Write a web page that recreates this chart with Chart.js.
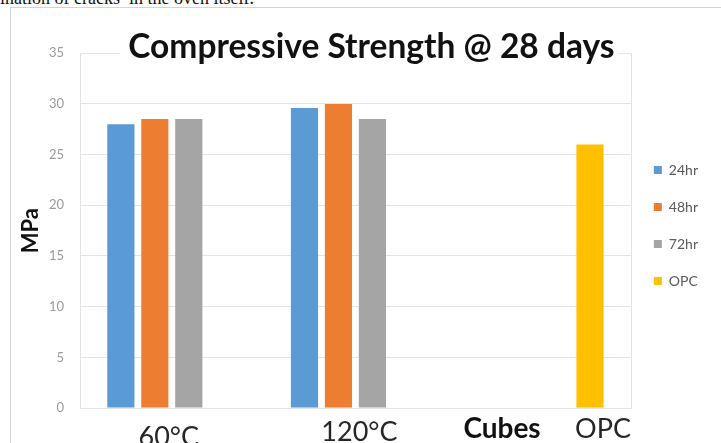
<!DOCTYPE html>
<html>
<head>
<meta charset="utf-8">
<script src="https://cdn.jsdelivr.net/npm/chart.js@4/dist/chart.umd.min.js"></script>
<style>
  html, body { margin: 0; padding: 0; background: #fff; width: 721px; height: 443px; overflow: hidden; }
  #caption {
    position: absolute; left: 0; top: -11px;
    font-family: "Liberation Serif", serif; font-size: 18px; line-height: 18px;
    color: #111; white-space: nowrap;
  }
  #frame {
    position: absolute; left: 10px; top: 7px; width: 720px; height: 450px;
    border: 1px solid #d4d4d4; box-sizing: border-box;
  }
  #chart { position: absolute; left: 11px; top: 8px; }
</style>
</head>
<body>
<div id="caption">ination of cracks&nbsp; in the oven itself.</div>
<div id="frame"></div>
<canvas id="chart" width="710" height="435"></canvas>
<script>
// Curing temperatures / reference mix along the x axis
const categories = ['60°C', '120°C', 'OPC'];
// Compressive strength (MPa) after 28 days, by oven-curing duration
const hr24 = [28, 29.6, null];
const hr48 = [28.5, 30, null];
const hr72 = [28.5, 28.5, null];
const opc  = [null, null, 26];
const yTicks = [0, 5, 10, 15, 20, 25, 30, 35];

const FONT = 'Lato, "Open Sans", sans-serif';
const TITLE_FONT = { family: FONT, size: 33.5, weight: 'bold' };
const LINE = '#e3e3e3';

// Light frame around the plotting area; the top edge leaves a gap for the title
const plotFrame = {
  id: 'plotFrame',
  beforeDraw(chart) {
    const { ctx, chartArea: a } = chart;
    const t = chart.titleBlock;
    ctx.save();
    ctx.font = `${TITLE_FONT.weight} ${TITLE_FONT.size}px ${TITLE_FONT.family}`;
    const text = t.options.text;
    const w = ctx.measureText(text).width;
    const lead = ctx.measureText(text.slice(0, text.length - text.trimStart().length)).width;
    const cx = (t.left + t.right) / 2;
    const textL = cx - w / 2 + lead, textR = cx + w / 2;
    const l = Math.round(a.left) + 0.5, r = Math.round(a.right) + 0.5;
    const tp = Math.round(a.top) + 0.5, b = Math.round(a.bottom) + 0.5;
    ctx.strokeStyle = LINE;
    ctx.lineWidth = 1;
    ctx.beginPath();
    ctx.moveTo(textL - 8, tp); ctx.lineTo(l, tp); ctx.lineTo(l, b);
    ctx.lineTo(r, b); ctx.lineTo(r, tp); ctx.lineTo(textR + 4, tp);
    ctx.stroke();
    ctx.restore();
  }
};

// Category labels and the "Cubes" caption under the x axis
const categoryLabels = {
  id: 'categoryLabels',
  afterDraw(chart) {
    const { ctx } = chart;
    const x = chart.scales.x;
    const shifts = [[-3, 38], [4, 33], [64, 30]];
    ctx.save();
    ctx.fillStyle = '#262626';
    ctx.textAlign = 'center';
    ctx.textBaseline = 'alphabetic';
    ctx.font = '27px ' + FONT;
    categories.forEach((c, i) => {
      const [dx, dy] = shifts[i];
      ctx.fillText(c, x.getPixelForValue(i) + dx, x.top + dy);
    });
    ctx.font = 'bold 28px ' + FONT;
    ctx.fillStyle = '#111';
    ctx.fillText(chart.options.scales.x.title.text, x.getPixelForValue(2) - 37, x.top + 30);
    ctx.restore();
  }
};

new Chart(document.getElementById('chart'), {
  type: 'bar',
  data: {
    labels: categories,
    datasets: [
      { label: '24hr', data: hr24, backgroundColor: '#5B9BD5' },
      { label: '48hr', data: hr48, backgroundColor: '#ED7D31' },
      { label: '72hr', data: hr72, backgroundColor: '#A5A5A5' },
      { label: 'OPC',  data: opc,  backgroundColor: '#FFC000' }
    ]
  },
  options: {
    responsive: false,
    animation: false,
    devicePixelRatio: 1,
    datasets: { bar: { barPercentage: 0.8, categoryPercentage: 0.74 } },
    layout: { padding: { left: 7, right: 13, top: 0, bottom: 0 } },
    plugins: {
      title: {
        display: true,
        // leading space nudges the centred heading slightly to the right
        text: '\u2002Compressive Strength @ 28 days',
        color: '#111',
        font: TITLE_FONT,
        padding: { top: 19, bottom: -14 }
      },
      legend: {
        position: 'right',
        align: 'center',
        labels: {
          boxWidth: 8, boxHeight: 8, padding: 23,
          color: '#595959',
          font: { family: FONT, size: 14 }
        }
      },
      tooltip: { enabled: false }
    },
    scales: {
      x: {
        title: { display: false, text: 'Cubes' },
        ticks: { display: false },
        grid: { display: false },
        border: { display: false },
        afterFit(s) { s.height = 35; }
      },
      y: {
        min: 0, max: 35,
        afterBuildTicks(s) { s.ticks = yTicks.map(v => ({ value: v })); },
        ticks: { color: '#9a9a9a', padding: 16, font: { family: FONT, size: 13 } },
        grid: {
          drawTicks: false,
          // top and bottom edges come from the frame
          color: c => (c.tick && (c.tick.value === 35 || c.tick.value === 0)) ? 'rgba(0,0,0,0)' : LINE
        },
        border: { display: false },
        title: {
          display: true, text: 'MPa', color: '#111',
          font: { family: FONT, size: 22, weight: 'bold' },
          padding: 0
        },
        afterFit(s) { s.width = 62; }
      }
    }
  },
  plugins: [plotFrame, categoryLabels]
});
</script>
</body>
</html>
